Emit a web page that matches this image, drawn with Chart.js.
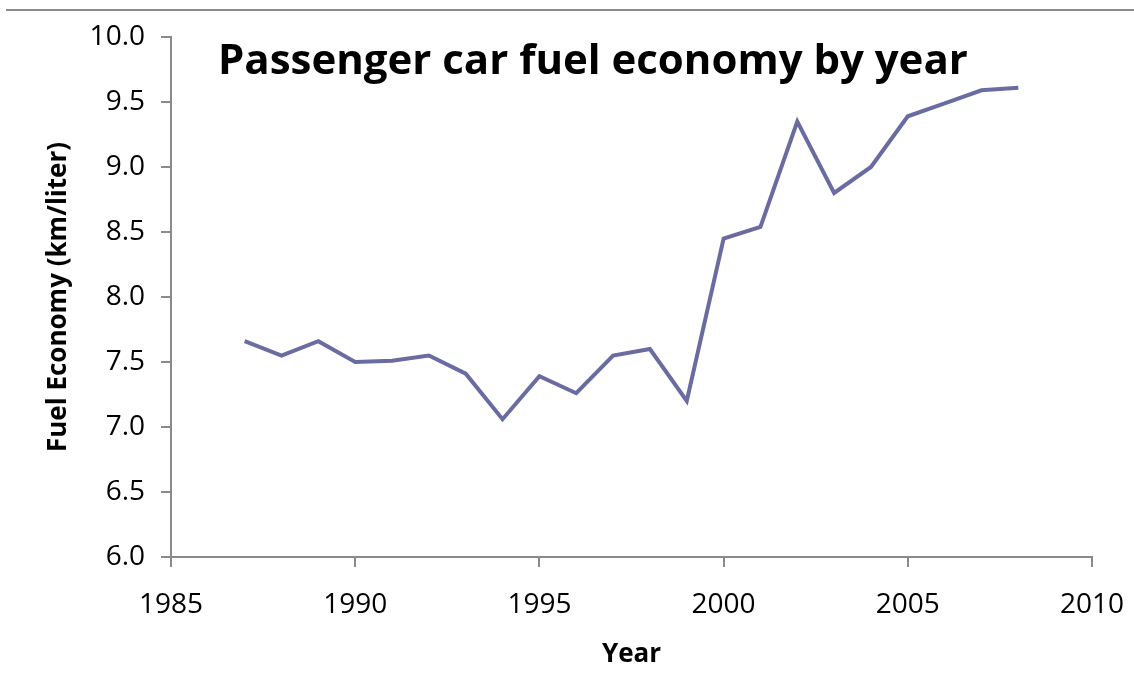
<!DOCTYPE html>
<html>
<head>
<meta charset="utf-8">
<script src="https://cdn.jsdelivr.net/npm/chart.js@4.4.0/dist/chart.umd.min.js"></script>
<style>
    html, body { margin: 0; padding: 0; background: #fff; }
    #wrap { position: relative; width: 1134px; height: 673px; }
    #topRule { position: absolute; left: 6px; right: 0; top: 9px; height: 0; border-top: 2px solid #8c8c8c; }
</style>
</head>
<body>
<div id="wrap">
    <div id="topRule"></div>
    <canvas id="fuelChart" width="1134" height="673"></canvas>
</div>
<script>
// ================================
// PASSENGER CAR FUEL ECONOMY
// ================================

const years = [1987, 1988, 1989, 1990, 1991, 1992, 1993, 1994, 1995, 1996, 1997,
               1998, 1999, 2000, 2001, 2002, 2003, 2004, 2005, 2006, 2007, 2008];
const economy = [7.66, 7.55, 7.66, 7.50, 7.51, 7.55, 7.41, 7.06, 7.39, 7.26, 7.55,
                 7.60, 7.20, 8.45, 8.54, 9.35, 8.80, 9.00, 9.39, 9.49, 9.59, 9.61];

const chartTitle = "Passenger car fuel economy by year";
const xTitle = "Year";
const yTitle = "Fuel Economy (km/liter)";

const FONT = "'Open Sans', 'Noto Sans', sans-serif";
const AXIS_GREY = "#8a8a8a";

/* ------------------------------
   TITLE INSIDE THE PLOT
------------------------------ */
const titlePlugin = {
    id: "insideTitle",
    afterDraw(chart) {
        const c = chart.ctx;
        c.save();
        let size = 40;
        c.font = "bold " + size + "px " + FONT;
        size = size * 750 / c.measureText(chartTitle).width;
        c.font = "bold " + size + "px " + FONT;
        c.fillStyle = "#000";
        c.textBaseline = "alphabetic";
        c.textAlign = "left";
        c.fillText(chartTitle, 218, 74);
        c.restore();
    }
};

new Chart(document.getElementById("fuelChart"), {
    type: "line",
    data: {
        datasets: [{
            data: years.map((y, i) => ({ x: y, y: economy[i] })),
            borderColor: "#6a6ba0",
            borderWidth: 4,
            pointRadius: 0,
            tension: 0,
            fill: false
        }]
    },
    options: {
        responsive: false,
        animation: false,
        layout: { padding: { top: 37, right: 42, bottom: 0, left: 0 } },
        plugins: {
            legend: { display: false },
            tooltip: { enabled: false }
        },
        scales: {
            x: {
                type: "linear",
                min: 1985,
                max: 2010,
                afterFit: s => {
                    s.height = 116;
                    s.paddingLeft = 0;
                    s.paddingRight = 0;
                },
                ticks: {
                    stepSize: 5,
                    color: "#000",
                    font: { family: FONT, size: 28 },
                    padding: 21,
                    maxRotation: 0,
                    callback: v => String(v)
                },
                grid: { drawOnChartArea: false, drawTicks: true, tickLength: 10, color: AXIS_GREY, lineWidth: 2 },
                border: { color: AXIS_GREY, width: 2 },
                title: {
                    display: true,
                    text: xTitle,
                    color: "#000",
                    font: { family: FONT, size: 26, weight: "bold" },
                    padding: { top: 3, bottom: 3 }
                }
            },
            y: {
                min: 6,
                max: 10,
                afterFit: s => { s.width = 171; },
                ticks: {
                    stepSize: 0.5,
                    color: "#000",
                    font: { family: FONT, size: 28 },
                    padding: 16,
                    callback: v => v.toFixed(1)
                },
                grid: { drawOnChartArea: false, drawTicks: true, tickLength: 10, color: AXIS_GREY, lineWidth: 2 },
                border: { color: AXIS_GREY, width: 2 },
                title: {
                    display: true,
                    text: yTitle,
                    color: "#000",
                    font: { family: FONT, size: 26, weight: "bold" },
                    padding: { top: 43, bottom: 4 }
                }
            }
        }
    },
    plugins: [titlePlugin]
});
</script>
</body>
</html>
